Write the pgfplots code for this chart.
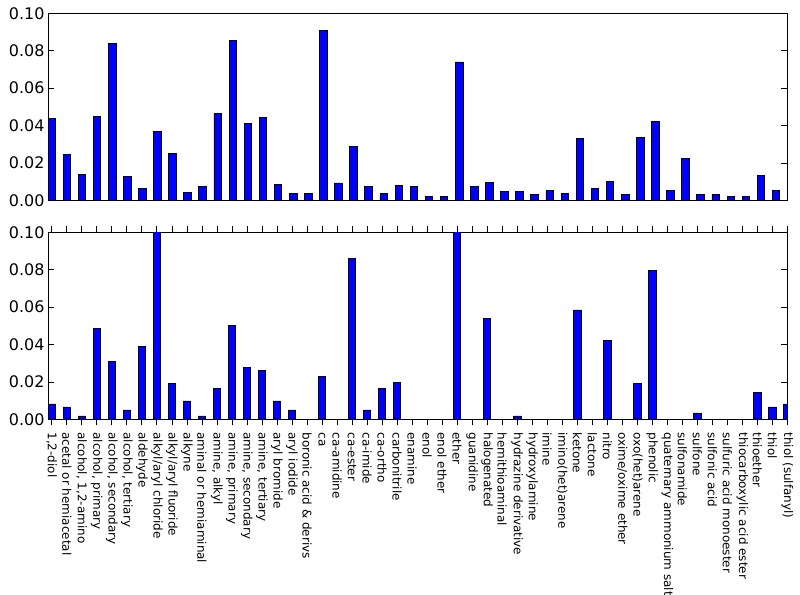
\documentclass[border=0pt]{standalone}
\usepackage{pgfplots}
\pgfplotsset{compat=1.18}
\usepackage{fontspec}
\setmainfont{DejaVu Sans}

\pgfplotsset{
  panel/.style={
    scale only axis,
    width=739.4bp,
    xmin=-0.25,
    ymin=0, ymax=0.10,
    ytick={0,0.02,0.04,0.06,0.08,0.10},
    yticklabel style={/pgf/number format/.cd, fixed, fixed zerofill, precision=2, assume math mode=true},
    ticklabel style={font=\fontsize{16}{19}\selectfont},
    scaled y ticks=false,
    tick align=inside,
    xtick pos=both, ytick pos=both,
    major tick length=6bp,
    axis line style={line width=0.9bp},
    every tick/.style={black, line width=0.7bp},
    ybar, bar width=0.5,
  },
}

\begin{document}
\begin{tikzpicture}
\path[use as bounding box] (0,0) rectangle (800bp,-595bp);

% top panel
\begin{axis}[panel,
    at={(48bp,-13.3bp)}, anchor=north west,
    height=187.2bp,
    xmax=48.75,
    xtick=\empty,
]
\addplot[fill=blue, draw=black, line width=0.8bp] coordinates {
 (0,0.0439) (1,0.0248) (2,0.0139) (3,0.0447) (4,0.0840) (5,0.0128) (6,0.0062) (7,0.0371)
 (8,0.0250) (9,0.0041) (10,0.0073) (11,0.0465) (12,0.0854) (13,0.0414) (14,0.0442) (15,0.0087)
 (16,0.0037) (17,0.0039) (18,0.0909) (19,0.0094) (20,0.0291) (21,0.0073) (22,0.0037) (23,0.0080)
 (24,0.0077) (25,0.0023) (26,0.0020) (27,0.0740) (28,0.0075) (29,0.0096) (30,0.0046) (31,0.0048)
 (32,0.0030) (33,0.0052) (34,0.0037) (35,0.0332) (36,0.0064) (37,0.0100) (38,0.0030) (39,0.0335)
 (40,0.0424) (41,0.0053) (42,0.0225) (43,0.0034) (44,0.0032) (45,0.0021) (46,0.0021) (47,0.0134)
 (48,0.0052)
};
\end{axis}

% bottom panel
\begin{axis}[panel,
    at={(48bp,-232.3bp)}, anchor=north west,
    height=187bp,
    xmax=49.0,
    xtick={0,...,49},
    xticklabels={{1,2-diol}, acetal or hemiacetal, {alcohol, 1,2-amino}, {alcohol, primary},
      {alcohol, secondary}, {alcohol, tertiary}, aldehyde, alkyl/aryl chloride, alkyl/aryl fluoride,
      alkyne, aminal or hemiaminal, {amine, alkyl}, {amine, primary}, {amine, secondary},
      {amine, tertiary}, aryl bromide, aryl iodide, boronic acid \& derivs, ca, ca-amidine,
      ca-ester, ca-imide, ca-ortho, carbonitrile, enamine, enol, enol ether, ether, guanidine,
      halogenated, hemithioaminal, hydrazine derivative, hydroxylamine, imine, imino(het)arene,
      ketone, lactone, nitro, oxime/oxime ether, oxo(het)arene, phenolic,
      quaternary ammonium salt, sulfonamide, sulfone, sulfonic acid, sulfuric acid monoester,
      thiocarboxylic acid ester, thioether, thiol, thiol (sulfanyl)},
    xticklabel style={rotate=-90, anchor=west, font=\fontsize{12}{14}\selectfont, inner sep=0pt, xshift=0bp},
    xticklabel shift=7bp,
]
\addplot[fill=blue, draw=black, line width=0.8bp] coordinates {
 (0,0.0082) (1,0.0066) (2,0.0018) (3,0.0488) (4,0.0310) (5,0.0050) (6,0.0390) (7,0.12)
 (8,0.0194) (9,0.0098) (10,0.0018) (11,0.0164) (12,0.0504) (13,0.0278) (14,0.0260) (15,0.0098)
 (16,0.0050) (17,0) (18,0.0228) (19,0) (20,0.0861) (21,0.0050) (22,0.0164) (23,0.0196)
 (24,0) (25,0) (26,0) (27,0.12) (28,0) (29,0.0537) (30,0) (31,0.0018)
 (32,0) (33,0) (34,0) (35,0.0585) (36,0) (37,0.0422) (38,0) (39,0.0194)
 (40,0.0795) (41,0) (42,0) (43,0.0034) (44,0) (45,0) (46,0) (47,0.0146)
 (48,0.0066) (49,0.0082)
};
\end{axis}
\end{tikzpicture}
\end{document}
